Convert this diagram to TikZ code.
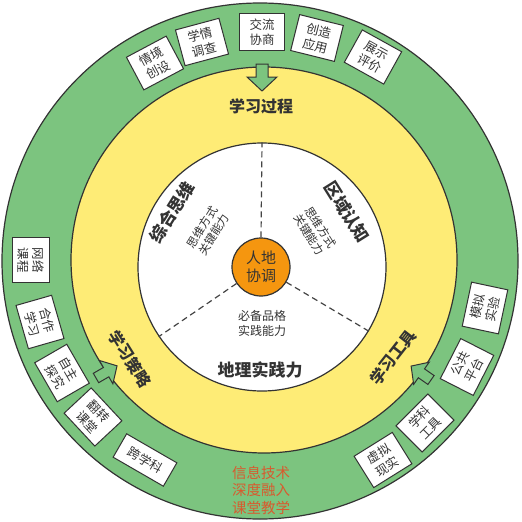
\documentclass[tikz,border=0pt]{standalone}
\usepackage{fontspec}
\setmainfont{Noto Sans CJK SC}
\definecolor{grn}{HTML}{7CC47F}
\definecolor{ylw}{HTML}{FEEC76}
\definecolor{org}{HTML}{F5960F}
\definecolor{linec}{HTML}{333333}
\definecolor{txt}{HTML}{333333}
\definecolor{dashc}{HTML}{444444}
\definecolor{redt}{HTML}{D85A2E}
\begin{document}
\begin{tikzpicture}[x=1pt,y=-1pt,
  ring/.style={circle, draw=linec, line width=1.2pt, inner sep=0pt},
  box/.style={draw=linec, fill=white, line width=1pt, minimum width=45, minimum height=37, inner sep=1pt, align=center, font=\fontsize{12.5}{15.5}\selectfont, text=txt},
  widebox/.style={box, minimum width=58, minimum height=27},
  blockarrow/.style={draw=linec, fill=grn, line width=1pt, line join=miter},
  sep/.style={draw=dashc, line width=1.2pt, dash pattern=on 6pt off 4pt},
  big/.style={font=\fontsize{17}{20}\selectfont\bfseries, text=txt},
  mid/.style={font=\fontsize{16}{19}\selectfont\bfseries, text=txt},
  small/.style={font=\fontsize{11.5}{13.5}\selectfont, text=txt, align=center},
  hubtext/.style={font=\fontsize{15}{18}\selectfont, text=txt, align=center}
]
\useasboundingbox (0,0) rectangle (522,522);
% rings
\node (outer) [ring, fill=grn, minimum size=516] at (260,261) {};
\node (mid) [ring, fill=ylw, minimum size=386] at (264,260) {};
\node (core) [ring, fill=white, minimum size=248] at (262,267) {};
\node (hub) [ring, fill=org, minimum size=58, hubtext] at (261,267) {人地\\协调};
% separators
\draw[sep] (hub.90) -- (core.90);
\draw[sep] (hub.214) -- (core.214);
\draw[sep] (hub.-31) -- (core.-31);
% sector labels
\node (zh) [big, rotate=58] at (172,212) {综合思维};
\node (zhs) [small, rotate=58] at (208,231) {思维方式\\关键能力};
\node (qy) [big, rotate=-58] at (347,212) {区域认知};
\node (qys) [small, rotate=-58] at (315,231) {思维方式\\关键能力};
\node (dl) [big] at (260,370) {地理实践力};
\node (dls) [small, font=\fontsize{12}{15}\selectfont] at (262,323) {必备品格\\实践能力};
% yellow ring labels
\node (gc) [mid] at (261,106) {学习过程};
\node (cl) [mid, rotate=-58] at (130,359) {学习策略};
\node (gj) [mid, rotate=52] at (393,357) {学习工具};
% arrows
\draw[blockarrow, shift={(262,64)}, rotate=-90] (0,-6) -- (13,-6) -- (13,-15) -- (27,0) -- (13,15) -- (13,6) -- (0,6) -- cycle;
\draw[blockarrow, shift={(96,378)}, rotate=30, scale=0.9] (0,-6) -- (13,-6) -- (13,-15) -- (27,0) -- (13,15) -- (13,6) -- (0,6) -- cycle;
\draw[blockarrow, shift={(431,380)}, rotate=145, scale=0.9] (0,-6) -- (13,-6) -- (13,-15) -- (27,0) -- (13,15) -- (13,6) -- (0,6) -- cycle;
% top boxes
\node (b1) [box, rotate=28] at (155,63) {情境\\创设};
\node (b2) [box, rotate=15] at (202,42) {学情\\调查};
\node (b3) [box] at (262,32) {交流\\协商};
\node (b4) [box, rotate=-14] at (317,38) {创造\\应用};
\node (b5) [box, rotate=-29] at (373,57) {展示\\评价};
% left boxes
\node (l1) [box, rotate=-90] at (31,260) {网络\\课程};
\node (l2) [box, rotate=-74] at (40,322) {合作\\学习};
\node (l3) [box, rotate=-60] at (62,373) {自主\\探究};
\node (l4) [box, rotate=-47] at (93,417) {翻转\\课堂};
\node (l5) [widebox, rotate=-30] at (145,460) {跨学科};
% right boxes
\node (r1) [box, rotate=78] at (485,308) {模拟\\实验};
\node (r2) [box, rotate=63] at (467,367) {公共\\平台};
\node (r3) [box, rotate=45] at (425,423) {学科\\工具};
\node (r4) [box, rotate=32] at (383,460) {虚拟\\现实};
% bottom text
\node (bt) [text=redt, align=center, font=\fontsize{14.5}{17.5}\selectfont] at (261,490) {信息技术\\深度融入\\课堂教学};
\end{tikzpicture}
\end{document}
